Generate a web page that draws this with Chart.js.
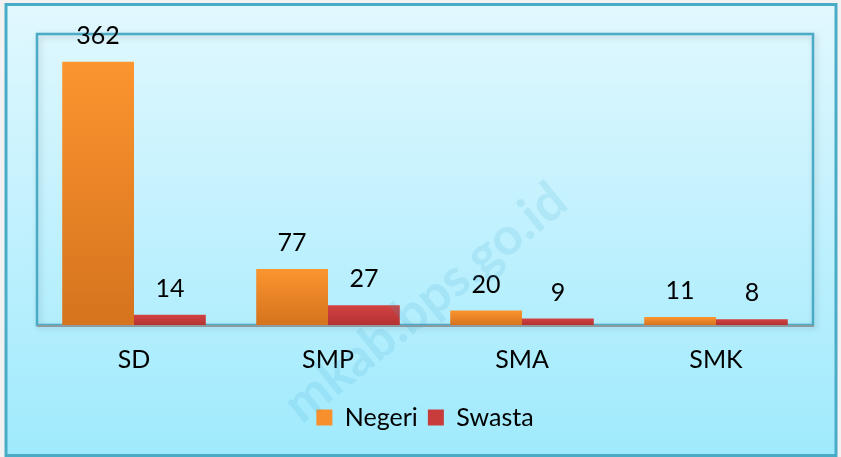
<!DOCTYPE html>
<html>
<head>
<meta charset="utf-8">
<script src="https://cdn.jsdelivr.net/npm/chart.js@4/dist/chart.umd.min.js"></script>
<style>
    html, body { margin: 0; padding: 0; background: #ffffff; }
    #wrap { width: 841px; height: 457px; position: relative; }
</style>
</head>
<body>
<div id="wrap"><canvas id="sekolahChart"></canvas></div>
<script>
// 数据
const categories = ['SD', 'SMP', 'SMA', 'SMK'];
const negeri = [362, 77, 20, 11];
const swasta = [14, 27, 9, 8];
const yTicks = [0, 400];

const FONT = 'Lato, "Open Sans", sans-serif';

// 柱子渐变色（按每根柱子的高度）
function barGradient(top, bottom) {
    return function(context) {
        const chart = context.chart;
        if (!chart.chartArea || context.raw === undefined) return top;
        const y = chart.scales.y;
        const y0 = y.getPixelForValue(context.raw);
        const y1 = y.getPixelForValue(0);
        if (!isFinite(y0) || !isFinite(y1) || y0 === y1) return top;
        const g = chart.ctx.createLinearGradient(0, y0, 0, y1);
        g.addColorStop(0, top);
        g.addColorStop(1, bottom);
        return g;
    };
}

// 背景、外框和绘图区边框
const framePlugin = {
    id: 'frame',
    beforeDraw(chart) {
        const { ctx, width, height, chartArea: a } = chart;
        ctx.save();
        const bg = ctx.createLinearGradient(0, 0, 0, height);
        bg.addColorStop(0, '#e2f8fe');
        bg.addColorStop(1, '#9feafd');
        ctx.fillStyle = '#f2f2f2';
        ctx.fillRect(0, 0, width, height);
        ctx.fillStyle = bg;
        ctx.fillRect(6, 4, width - 11, height - 5);
        ctx.strokeStyle = '#4aabc7';
        ctx.lineWidth = 3;
        ctx.strokeRect(6, 4.5, width - 11, height - 6);

        // 绘图区
        ctx.shadowColor = 'rgba(0,0,0,0.18)';
        ctx.shadowBlur = 6;
        ctx.shadowOffsetX = 2;
        ctx.shadowOffsetY = 2;
        ctx.strokeStyle = '#4aabc7';
        ctx.lineWidth = 2.5;
        ctx.strokeRect(a.left, a.top, a.right - a.left, a.bottom - a.top);
        ctx.restore();
    },
    afterDatasetsDraw(chart) {
        const { ctx, chartArea: a } = chart;
        ctx.save();
        ctx.strokeStyle = '#8d9aa0';
        ctx.lineWidth = 2;
        ctx.beginPath();
        ctx.moveTo(a.left, a.bottom + 1);
        ctx.lineTo(a.right + 1, a.bottom + 1);
        ctx.stroke();
        ctx.restore();
    }
};

// 数值标签
const valueLabels = {
    id: 'valueLabels',
    afterDatasetsDraw(chart) {
        const ctx = chart.ctx;
        ctx.save();
        ctx.fillStyle = '#000000';
        ctx.font = '25px ' + FONT;
        ctx.textAlign = 'center';
        ctx.textBaseline = 'middle';
        chart.data.datasets.forEach((ds, i) => {
            chart.getDatasetMeta(i).data.forEach((bar, j) => {
                ctx.fillText(ds.data[j], bar.x, bar.y - 26);
            });
        });
        ctx.restore();
    }
};

// 水印
const watermark = {
    id: 'watermark',
    afterDraw(chart) {
        const ctx = chart.ctx;
        ctx.save();
        ctx.translate(560, 194);
        ctx.rotate(-39 * Math.PI / 180);
        ctx.font = 'bold 52px ' + FONT;
        ctx.fillStyle = 'rgba(60, 170, 210, 0.15)';
        ctx.textAlign = 'right';
        ctx.textBaseline = 'middle';
        ctx.fillText('mkab.bps.go.id', 0, 0);
        ctx.restore();
    }
};

const legendColors = ['#f7902c', '#c83c3c'];

new Chart(document.getElementById('sekolahChart'), {
    type: 'bar',
    data: {
        labels: categories,
        datasets: [{
            label: 'Negeri',
            data: negeri,
            backgroundColor: barGradient('#fb952f', '#d5731e'),
            borderWidth: 0,
            categoryPercentage: 0.74,
            barPercentage: 1.0
        }, {
            label: 'Swasta',
            data: swasta,
            backgroundColor: barGradient('#d24242', '#b53232'),
            borderWidth: 0,
            categoryPercentage: 0.74,
            barPercentage: 1.0
        }]
    },
    options: {
        responsive: true,
        maintainAspectRatio: false,
        animation: false,
        layout: {
            padding: { left: 37, right: 28, top: 34, bottom: 17 }
        },
        plugins: {
            legend: {
                position: 'bottom',
                labels: {
                    font: { family: FONT, size: 25 },
                    color: '#000000',
                    boxWidth: 16,
                    boxHeight: 16,
                    padding: 10,
                    generateLabels(chart) {
                        return chart.data.datasets.map((ds, i) => ({
                            text: ds.label,
                            fillStyle: legendColors[i],
                            strokeStyle: legendColors[i],
                            lineWidth: 0,
                            hidden: false,
                            datasetIndex: i
                        }));
                    }
                }
            },
            tooltip: { enabled: false }
        },
        scales: {
            x: {
                grid: { display: false, drawTicks: false },
                border: { display: false },
                ticks: {
                    color: '#000000',
                    font: { family: FONT, size: 25 },
                    padding: 20
                },
                afterFit(scale) {
                    scale.height = 70;
                }
            },
            y: {
                display: false,
                min: yTicks[0],
                max: yTicks[1]
            }
        }
    },
    plugins: [framePlugin, valueLabels, watermark]
});
</script>
</body>
</html>
